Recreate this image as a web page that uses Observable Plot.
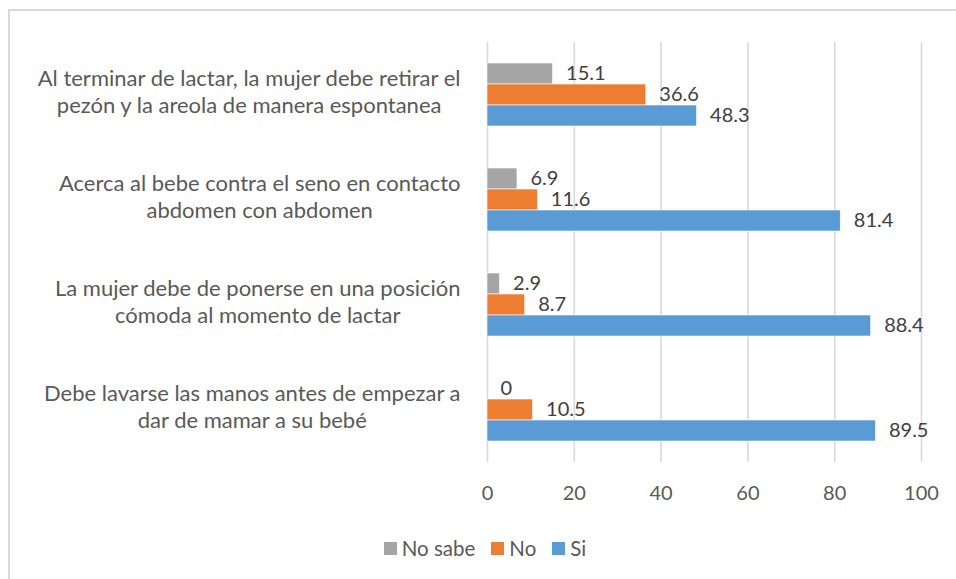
<!DOCTYPE html>
<html>
<head>
<meta charset="utf-8">
<script src="https://cdn.jsdelivr.net/npm/d3@7"></script>
<script src="https://cdn.jsdelivr.net/npm/@observablehq/plot@0.6"></script>
<style>
  html, body { margin: 0; padding: 0; background: #fff; }
  body { width: 956px; height: 579px; overflow: hidden; position: relative; font-family: Lato, "Open Sans", sans-serif; }
  #frame { position: absolute; left: 8px; top: 9px; width: 948px; height: 570px;
           border-top: 2px solid #d9d9d9; border-left: 2px solid #d9d9d9; }
  #legend { display: flex; justify-content: center; align-items: center; gap: 16px;
            font-size: 20.5px; color: #595959; margin-top: 25px; width: 950px; }
  #legend .item { display: flex; align-items: center; gap: 5px; }
  #legend .sw { width: 13px; height: 13px; display: inline-block; }
</style>
</head>
<body>
<div id="frame"><div id="chart"></div><div id="legend"></div></div>
<script>
const categories = [
  "Al terminar de lactar, la mujer debe retirar el\npezón y la areola de manera espontanea",
  "Acerca al bebe contra el seno en contacto\nabdomen con abdomen",
  "La mujer debe de ponerse en una posición\ncómoda al momento de lactar",
  "Debe lavarse las manos antes de empezar a\ndar de mamar a su bebé"
];
const series = ["No sabe", "No", "Si"];
const colors = ["#a5a5a5", "#ed7d31", "#5b9bd5"];
const noSabe = [15.1, 6.9, 2.9, 0];
const no = [36.6, 11.6, 8.7, 10.5];
const si = [48.3, 81.4, 88.4, 89.5];
const xTicks = [0, 20, 40, 60, 80, 100];

const valuesBySeries = [noSabe, no, si];
const data = [];
categories.forEach((c, i) => {
  series.forEach((s, j) => data.push({category: c, series: s, value: valuesBySeries[j][i]}));
});

const plot = Plot.plot({
  width: 946,
  height: 500,
  marginLeft: 477,
  marginRight: 35,
  marginTop: 29,
  marginBottom: 48,
  style: {fontFamily: "Lato, 'Open Sans', sans-serif", fontSize: "20px", color: "#595959", background: "#fff"},
  x: {domain: [0, 100], axis: null, label: null},
  fy: {domain: categories, padding: 0, axis: null, label: null},
  y: {domain: series, paddingInner: 0, paddingOuter: 0.93, axis: null, label: null},
  color: {domain: series, range: colors},
  marks: [
    Plot.ruleX(xTicks, {x: d => d, stroke: "#d9d9d9", strokeWidth: 1.6}),
    Plot.barX(data, {fy: "category", y: "series", x: "value", fill: "series", stroke: "#fff", strokeWidth: 0.6}),
    Plot.text(data, {fy: "category", y: "series", x: "value", text: d => String(d.value),
      textAnchor: "start", dx: 13, dy: 0, fill: "#404040", fontSize: 20}),
    Plot.text(categories, {fy: d => d, text: d => d, frameAnchor: "left", textAnchor: "middle",
      lineHeight: 1.23, dy: -4, fill: "#595959", fontSize: 22, className: "catlabel"}),
    Plot.axisX(xTicks, {tickSize: 0, tickPadding: 23, fill: "#595959", fontSize: 20, label: null, facetAnchor: "bottom"})
  ]
});
document.getElementById("chart").appendChild(plot);

// Right-align each label block, centering its lines relative to each other
const rightEdge = 450;
plot.querySelectorAll("g.catlabel text").forEach(t => {
  const bb = t.getBBox();
  const tr = t.getAttribute("transform") || "";
  const m = /translate\(([^,\s]+)[,\s]+([^)]+)\)/.exec(tr);
  const y = m ? +m[2] : 0;
  t.setAttribute("transform", `translate(${rightEdge - bb.width / 2},${y})`);
});

const legend = document.getElementById("legend");
series.forEach((s, i) => {
  const it = document.createElement("div");
  it.className = "item";
  const sw = document.createElement("span");
  sw.className = "sw";
  sw.style.background = colors[i];
  const lb = document.createElement("span");
  lb.textContent = s;
  it.appendChild(sw); it.appendChild(lb);
  legend.appendChild(it);
});
</script>
</body>
</html>
